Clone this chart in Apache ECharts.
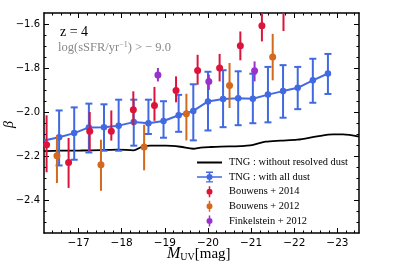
<!DOCTYPE html>
<html>
<head>
<meta charset="utf-8">
<script src="https://cdn.jsdelivr.net/npm/echarts@6/dist/echarts.min.js"></script>
<style>html,body{margin:0;padding:0;background:#fff}#c{width:399px;height:266px}</style>
</head>
<body>
<div id="c"></div>
<script>
// ---- data ----
const blueM    = [-16.2,-16.55,-16.9,-17.24,-17.59,-17.93,-18.28,-18.62,-18.97,-19.32,-19.66,-20.0,-20.35,-20.7,-21.04,-21.39,-21.74,-22.08,-22.43,-22.78];
const blueBeta = [-2.13,-2.115,-2.096,-2.070,-2.069,-2.062,-2.046,-2.051,-2.041,-2.015,-1.995,-1.952,-1.941,-1.938,-1.940,-1.921,-1.905,-1.890,-1.856,-1.825];
const blueHi   = [null,-1.993,-1.979,-1.962,-1.965,-1.944,-1.944,-1.944,-1.951,-1.922,-1.874,-1.817,-1.810,-1.815,-1.826,-1.795,-1.787,-1.795,-1.758,-1.736];
const blueLo   = [null,-2.243,-2.217,-2.184,-2.176,-2.176,-2.153,-2.100,-2.117,-2.090,-2.129,-2.084,-2.069,-2.060,-2.051,-2.047,-2.026,-1.987,-1.958,-1.918];

const blackM    = [-16.2,-16.59,-17.05,-17.52,-17.91,-18.28,-18.51,-18.67,-19.02,-19.36,-19.66,-19.83,-20.06,-20.29,-20.75,-20.98,-21.33,-21.68,-22.07,-22.53,-22.90,-23.13,-23.5];
const blackBeta = [-2.178,-2.176,-2.175,-2.173,-2.171,-2.174,-2.155,-2.153,-2.153,-2.158,-2.167,-2.162,-2.159,-2.157,-2.155,-2.152,-2.135,-2.130,-2.126,-2.111,-2.102,-2.102,-2.112];

const b14M    = [-16.26,-16.77,-17.26,-17.76,-18.27,-18.76,-19.26,-19.76,-20.27,-20.75,-21.25,-21.75];
const b14Beta = [-2.149,-2.229,-2.088,-2.088,-1.990,-1.970,-1.902,-1.811,-1.800,-1.699,-1.608,-1.520];
const b14Hi   = [-2.015,-2.118,-2.000,-1.993,-1.906,-1.886,-1.838,-1.740,-1.736,-1.634,-1.500,-1.410];
const b14Lo   = [-2.274,-2.345,-2.179,-2.130,-2.060,-2.040,-1.956,-1.876,-1.861,-1.765,-1.679,-1.632];

const b12M    = [-16.5,-17.52,-18.52,-19.5,-20.5,-21.5];
const b12Beta = [-2.199,-2.240,-2.159,-2.008,-1.879,-1.750];
const b12Hi   = [-2.108,-2.126,-2.058,-1.917,-1.777,-1.645];
const b12Lo   = [-2.323,-2.358,-2.265,-2.129,-1.982,-1.856];

const f12M    = [-18.84,-20.02,-21.08];
const f12Beta = [-1.832,-1.861,-1.812];
const f12Hi   = [-1.800,-1.830,-1.770];
const f12Lo   = [-1.861,-1.900,-1.861];

const xMajor = [-17,-18,-19,-20,-21,-22,-23];
const yMajor = [-2.4,-2.2,-2.0,-1.8,-1.6];
const X_MIN = -23.5, X_MAX = -16.2, Y_MIN = -2.55, Y_MAX = -1.55;

const xMinor = [];
for (let k = 82; k <= 117; k++) { if (k % 5 !== 0) xMinor.push(-k / 5); }
const yMinor = [];
for (let k = 32; k <= 50; k++) { if (k % 4 !== 0) yMinor.push(-k / 20); }

const LEGEND = ['TNG : without resolved dust', 'TNG : with all dust', 'Bouwens + 2014', 'Bouwens + 2012', 'Finkelstein + 2012'];

const C_BLUE = '#4169E1', C_RED = '#DC143C', C_ORANGE = '#D2691E', C_PURPLE = '#9932CC';

// ---- helpers ----
const minus = v => String(v).replace('-', '\u2212');
function fmtY(v){ return minus(Number(v).toFixed(1)); }

function xAx(pos, vals, len, labels, line) {
  return {
    type: 'value', position: pos, min: X_MIN, max: X_MAX, inverse: true,
    axisLine: { show: line, onZero: false, lineStyle: { color: '#000', width: 1.5 } },
    axisTick: { show: true, inside: true, length: len, customValues: vals, lineStyle: { color: '#000', width: 1 } },
    axisLabel: labels ? { show: true, customValues: vals, formatter: v => minus(v), color: '#000', fontFamily: 'DejaVu Sans', fontSize: 10.5, margin: 5 } : { show: false },
    splitLine: { show: false }
  };
}
function yAx(pos, vals, len, labels, line) {
  return {
    type: 'value', position: pos, min: Y_MIN, max: Y_MAX,
    axisLine: { show: line, onZero: false, lineStyle: { color: '#000', width: 1.5 } },
    axisTick: { show: true, inside: true, length: len, customValues: vals, lineStyle: { color: '#000', width: 1 } },
    axisLabel: labels ? { show: true, customValues: vals, formatter: fmtY, color: '#000', fontFamily: 'DejaVu Sans', fontSize: 10, margin: 4 } : { show: false },
    splitLine: { show: false }
  };
}

function errRender(capHalf, lw, color) {
  return function (params, api) {
    const x = api.value(0), lo = api.value(1), hi = api.value(2);
    const a = api.coord([x, hi]), b = api.coord([x, lo]);
    const ch = [{ type: 'line', shape: { x1: a[0], y1: a[1], x2: b[0], y2: b[1] }, style: { stroke: color, lineWidth: lw } }];
    if (capHalf > 0) {
      ch.push({ type: 'line', shape: { x1: a[0] - capHalf, y1: a[1], x2: a[0] + capHalf, y2: a[1] }, style: { stroke: color, lineWidth: lw } });
      ch.push({ type: 'line', shape: { x1: b[0] - capHalf, y1: b[1], x2: b[0] + capHalf, y2: b[1] }, style: { stroke: color, lineWidth: lw } });
    }
    return { type: 'group', children: ch };
  };
}
function errData(m, lo, hi) {
  const out = [];
  for (let i = 0; i < m.length; i++) if (lo[i] !== null && hi[i] !== null) out.push([m[i], lo[i], hi[i]]);
  return out;
}
function pts(m, b) { return m.map((v, i) => [v, b[i]]); }

// legend icons (25 x 11 box)
const corners = 'M0,0h0.01v0.01h-0.01z M24.99,10.99h0.01v0.01h-0.01z ';
const circ = 'M15.5,5.5 A3,3 0 1,1 9.5,5.5 A3,3 0 1,1 15.5,5.5 Z ';
const iconLine = 'path://' + corners + 'M0,4.6h25v1.8h-25z';
const iconBlue = 'path://' + corners + 'M0,4.75h25v1.5h-25z M11.75,0h1.5v11h-1.5z M9,0h7v1.4h-7z M9,9.6h7v1.4h-7z ' + circ;
const iconObs = 'path://' + corners + 'M11.75,0h1.5v11h-1.5z ' + circ;

const blueLineData = blueM.map((v, i) => i === 0 ? { value: [v, blueBeta[i]], symbol: 'none' } : [v, blueBeta[i]]);

const option = {
  animation: false,
  grid: { left: 44, right: 40, top: 13, bottom: 33 },
  xAxis: [
    xAx('bottom', xMajor, 5, true, true),
    xAx('bottom', xMinor, 2.5, false, false),
    xAx('top', xMajor, 5, false, true),
    xAx('top', xMinor, 2.5, false, false)
  ],
  yAxis: [
    yAx('left', yMajor, 5, true, true),
    yAx('left', yMinor, 2.5, false, false),
    yAx('right', yMajor, 5, false, true),
    yAx('right', yMinor, 2.5, false, false)
  ],
  legend: {
    orient: 'vertical', left: 192, top: 152,
    itemWidth: 25, itemHeight: 11, itemGap: 3.6,
    textStyle: { fontFamily: 'Liberation Serif', fontSize: 10.4, color: '#000', lineHeight: 11, padding: [0, 0, 0, 2] },
    data: [
      { name: LEGEND[0], icon: iconLine, itemStyle: { color: '#000' } },
      { name: LEGEND[1], icon: iconBlue },
      { name: LEGEND[2], icon: iconObs },
      { name: LEGEND[3], icon: iconObs },
      { name: LEGEND[4], icon: iconObs }
    ]
  },
  graphic: [
    { type: 'text', left: 60, top: 25, style: { text: 'z = 4', font: '14px "Liberation Serif"', fill: '#000' } },
    { type: 'text', left: 58, top: 41, style: {
        rich: { a: { fontFamily: 'Liberation Serif', fontSize: 12.5, fill: '#888', lineHeight: 14 },
                s: { fontFamily: 'Liberation Serif', fontSize: 8, fill: '#888', lineHeight: 14, verticalAlign: 'top', padding: [0,0,5,0] } },
        text: '{a|log(sSFR/yr}{s|\u22121}{a|) > \u2212 9.0}' } },
    { type: 'text', x: 2, y: 128, rotation: Math.PI / 2, style: { text: '\u03B2', font: 'italic 14px "Liberation Serif"', fill: '#000' } },
    { type: 'text', left: 167, top: 246, style: {
        rich: { m: { fontFamily: 'Liberation Serif', fontStyle: 'italic', fontSize: 16, fill: '#000', lineHeight: 17 },
                s: { fontFamily: 'Liberation Serif', fontSize: 10, fill: '#000', lineHeight: 17, padding: [6,0,0,0] },
                n: { fontFamily: 'Liberation Serif', fontSize: 15, fill: '#000', lineHeight: 17 } },
        text: '{m|M}{s|UV}{n|[mag]}' } }
  ],
  series: [
    { name: LEGEND[0], type: 'line', data: pts(blackM, blackBeta), smooth: 0.3, symbol: 'none',
      lineStyle: { color: '#000', width: 1.8 }, itemStyle: { color: '#000' }, z: 2 },
    { name: LEGEND[1], type: 'custom', renderItem: errRender(3.5, 2, C_BLUE), data: errData(blueM, blueLo, blueHi),
      encode: { x: 0, y: [1, 2] }, itemStyle: { color: C_BLUE }, clip: true, z: 3 },
    { name: LEGEND[1], type: 'line', data: blueLineData, symbol: 'circle', symbolSize: 6.5,
      lineStyle: { color: C_BLUE, width: 2 }, itemStyle: { color: C_BLUE }, z: 4 },
    { name: LEGEND[2], type: 'custom', renderItem: errRender(0, 2, C_RED), data: errData(b14M, b14Lo, b14Hi),
      encode: { x: 0, y: [1, 2] }, itemStyle: { color: C_RED }, clip: true, z: 5 },
    { name: LEGEND[2], type: 'scatter', data: pts(b14M, b14Beta), symbolSize: 7, itemStyle: { color: C_RED, opacity: 1 }, z: 6 },
    { name: LEGEND[3], type: 'custom', renderItem: errRender(0, 2, C_ORANGE), data: errData(b12M, b12Lo, b12Hi),
      encode: { x: 0, y: [1, 2] }, itemStyle: { color: C_ORANGE }, clip: true, z: 5 },
    { name: LEGEND[3], type: 'scatter', data: pts(b12M, b12Beta), symbolSize: 7, itemStyle: { color: C_ORANGE, opacity: 1 }, z: 6 },
    { name: LEGEND[4], type: 'custom', renderItem: errRender(0, 2, C_PURPLE), data: errData(f12M, f12Lo, f12Hi),
      encode: { x: 0, y: [1, 2] }, itemStyle: { color: C_PURPLE }, clip: true, z: 5 },
    { name: LEGEND[4], type: 'scatter', data: pts(f12M, f12Beta), symbolSize: 7, itemStyle: { color: C_PURPLE, opacity: 1 }, z: 6 }
  ]
};
const chart = echarts.init(document.getElementById('c'), null, { renderer: 'canvas' });
chart.setOption(option);
</script>
</body>
</html>
